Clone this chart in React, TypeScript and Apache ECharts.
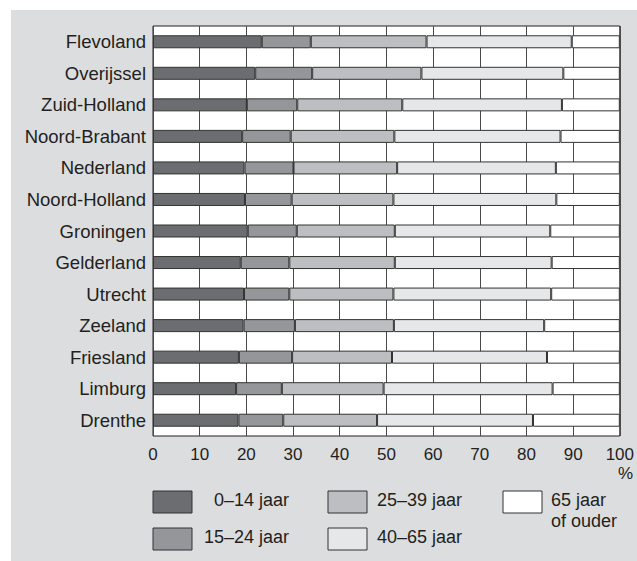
import React, { useEffect, useRef } from "react";
import * as echarts from "echarts";

const provinces = [
  "Flevoland", "Overijssel", "Zuid-Holland", "Noord-Brabant", "Nederland", "Noord-Holland",
  "Groningen", "Gelderland", "Utrecht", "Zeeland", "Friesland", "Limburg", "Drenthe",
];
const seriesNames = ["0–14 jaar", "15–24 jaar", "25–39 jaar", "40–65 jaar", "65 jaar of ouder"];
const age0to14 = [23.3, 21.9, 20.1, 19.1, 19.6, 19.7, 20.3, 18.8, 19.5, 19.4, 18.4, 17.8, 18.3];
const age15to24 = [10.5, 12.2, 10.8, 10.4, 10.5, 10.0, 10.5, 10.4, 9.7, 11.0, 11.4, 9.8, 9.6];
const age25to39 = [24.8, 23.4, 22.5, 22.2, 22.2, 21.8, 21.0, 22.6, 22.3, 21.2, 21.4, 21.8, 20.1];
const age40to65 = [31.1, 30.4, 34.2, 35.6, 34.0, 34.9, 33.3, 33.6, 33.8, 32.2, 33.2, 36.2, 33.4];
const age65plus = [10.3, 12.1, 12.4, 12.7, 13.7, 13.6, 14.9, 14.6, 14.7, 16.2, 15.6, 14.4, 18.6];
const xTicks = [0, 10, 20, 30, 40, 50, 60, 70, 80, 90, 100];
const colors = ["#6c6d70", "#959699", "#bdbec1", "#e6e7e8", "#ffffff"];

const FONT = "'Liberation Sans', Arial, sans-serif";
const TXT = "#231f20";

export default function App() {
  const ref = useRef<HTMLDivElement>(null);
  useEffect(() => {
    if (!ref.current) return;
    const chart = echarts.init(ref.current, undefined, { renderer: "svg" });
    const values = [age0to14, age15to24, age25to39, age40to65, age65plus];
    const legendPos = [
      { x: 153, y: 491, tx: 289, align: "right" },
      { x: 153, y: 528, tx: 289, align: "right" },
      { x: 328, y: 491, tx: 377, align: "left" },
      { x: 328, y: 528, tx: 377, align: "left" },
      { x: 503, y: 491, tx: 551, align: "left" },
    ];
    const legendLabels = ["0–14 jaar", "15–24 jaar", "25–39 jaar", "40–65 jaar", "65 jaar\nof ouder"];
    const graphic: any[] = [
      {
        type: "rect",
        z: -10,
        shape: { x: 11, y: 10, width: 626, height: 551 },
        style: { fill: "#dcdddf" },
        silent: true,
      },
      {
        type: "text",
        x: 633,
        y: 465,
        style: { text: "%", fill: TXT, font: `17px ${FONT}`, textAlign: "right", textVerticalAlign: "top" },
      },
    ];
    legendPos.forEach((p, i) => {
      graphic.push({
        type: "rect",
        shape: { x: p.x, y: p.y, width: 39, height: 22 },
        style: { fill: colors[i], stroke: "#333", lineWidth: 1 },
      });
      graphic.push({
        type: "text",
        x: p.tx,
        y: p.y - 2,
        style: {
          text: legendLabels[i],
          fill: TXT,
          font: `18px ${FONT}`,
          textAlign: p.align,
          textVerticalAlign: "top",
          lineHeight: 21,
        },
      });
    });
    chart.setOption({
      animation: false,
      backgroundColor: "#ffffff",
      textStyle: { fontFamily: FONT },
      grid: {
        left: 153,
        top: 26,
        width: 472,
        height: 410,
        show: true,
        backgroundColor: "#ffffff",
        borderColor: TXT,
        borderWidth: 1,
        containLabel: false,
      },
      xAxis: {
        type: "value",
        min: 0,
        max: 100,
        interval: 10,
        axisLine: { show: false },
        axisTick: { show: false },
        axisLabel: { color: TXT, fontSize: 17, margin: 10, fontFamily: FONT, formatter: (v: number) => (xTicks.includes(v) ? String(v) : "") },
        splitLine: { show: true, lineStyle: { color: "#4a4a4a", width: 1 } },
      },
      yAxis: {
        type: "category",
        data: provinces,
        inverse: true,
        axisLine: { show: false },
        axisTick: { show: false },
        axisLabel: { color: TXT, fontSize: 18.5, margin: 7, fontFamily: FONT },
        splitLine: { show: false },
      },
      series: values.map((d, i) => ({
        name: seriesNames[i],
        type: "bar",
        stack: "total",
        barWidth: 13,
        data: d,
        itemStyle: { color: colors[i], borderColor: "#333", borderWidth: 1 },
      })),
      graphic,
    });
    return () => chart.dispose();
  }, []);
  return (
    <div
      ref={ref}
      style={{ position: "fixed", left: 0, top: 0, width: 637, height: 561 }}
    />
  );
}
